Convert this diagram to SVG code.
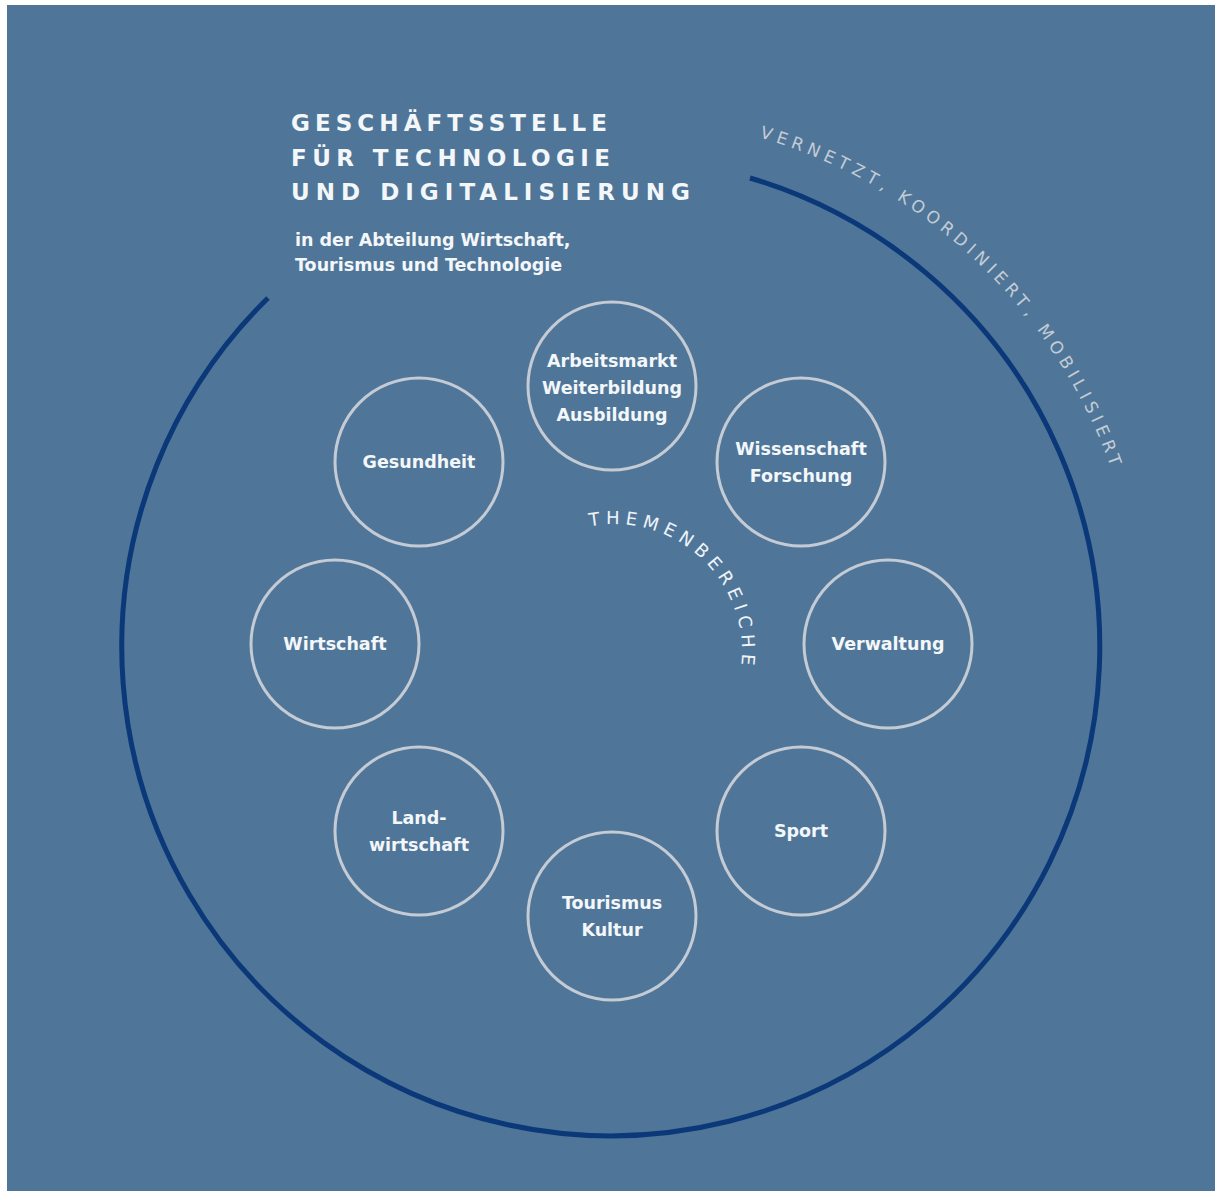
<svg xmlns="http://www.w3.org/2000/svg" width="1215" height="1191" viewBox="0 0 1215 1191">
<style>
.bg{fill:#4f7698}
.ring{fill:none;stroke:#0b3878;stroke-width:5}
.node circle{fill:none;stroke:#c4cbd4;stroke-width:3}
.node text{font-family:"DejaVu Sans",Verdana,sans-serif;font-weight:bold;font-size:17.5px;fill:#f4f7fa;text-anchor:middle}
.title{font-family:"DejaVu Sans",Verdana,sans-serif;font-weight:bold;font-size:23px;fill:#f4f7fa}
.sub{font-family:"DejaVu Sans",Verdana,sans-serif;font-weight:bold;font-size:17.5px;fill:#f4f7fa}
.arc1{font-family:"DejaVu Sans",Verdana,sans-serif;font-size:17px;fill:#c3ccd6;letter-spacing:5px}
.arc2{font-family:"DejaVu Sans",Verdana,sans-serif;font-size:18px;fill:#eef3f8;letter-spacing:5.5px}
</style>
<defs>
<path id="p1" d="M759.3,137.4 A529,529 0 0 1 1072,908"/>
<path id="p2" d="M589.6,526.4 A128,128 0 0 1 712.1,734.3"/>
</defs>
<rect width="1215" height="1191" fill="#ffffff"/>
<rect class="bg" x="7" y="5" width="1208" height="1186"/>
<g id="connectors">
<path class="ring" d="M268,298 A489,489 0 1 0 750,178"/>
</g>
<g id="title">
<text class="title" x="291" y="131" textLength="316">GESCHÄFTSSTELLE</text>
<text class="title" x="291" y="166" textLength="319">FÜR TECHNOLOGIE</text>
<text class="title" x="291" y="200" textLength="399">UND DIGITALISIERUNG</text>
<text class="sub" x="295" y="246">in der Abteilung Wirtschaft,</text>
<text class="sub" x="295" y="271">Tourismus und Technologie</text>
</g>
<g id="label-vernetzt">
<text class="arc1"><textPath href="#p1">VERNETZT, KOORDINIERT, MOBILISIERT</textPath></text>
</g>
<g id="label-themen">
<text class="arc2"><textPath href="#p2">THEMENBEREICHE</textPath></text>
</g>
<g id="n-arbeitsmarkt" class="node"><circle cx="612" cy="386" r="84"/><text x="612" y="367">Arbeitsmarkt</text><text x="612" y="394">Weiterbildung</text><text x="612" y="421">Ausbildung</text></g>
<g id="n-wissenschaft" class="node"><circle cx="801" cy="462" r="84"/><text x="801" y="455">Wissenschaft</text><text x="801" y="482">Forschung</text></g>
<g id="n-verwaltung" class="node"><circle cx="888" cy="644" r="84"/><text x="888" y="650">Verwaltung</text></g>
<g id="n-sport" class="node"><circle cx="801" cy="831" r="84"/><text x="801" y="837">Sport</text></g>
<g id="n-tourismus" class="node"><circle cx="612" cy="916" r="84"/><text x="612" y="909">Tourismus</text><text x="612" y="936">Kultur</text></g>
<g id="n-landwirtschaft" class="node"><circle cx="419" cy="831" r="84"/><text x="419" y="824">Land-</text><text x="419" y="851">wirtschaft</text></g>
<g id="n-wirtschaft" class="node"><circle cx="335" cy="644" r="84"/><text x="335" y="650">Wirtschaft</text></g>
<g id="n-gesundheit" class="node"><circle cx="419" cy="462" r="84"/><text x="419" y="468">Gesundheit</text></g>
</svg>
